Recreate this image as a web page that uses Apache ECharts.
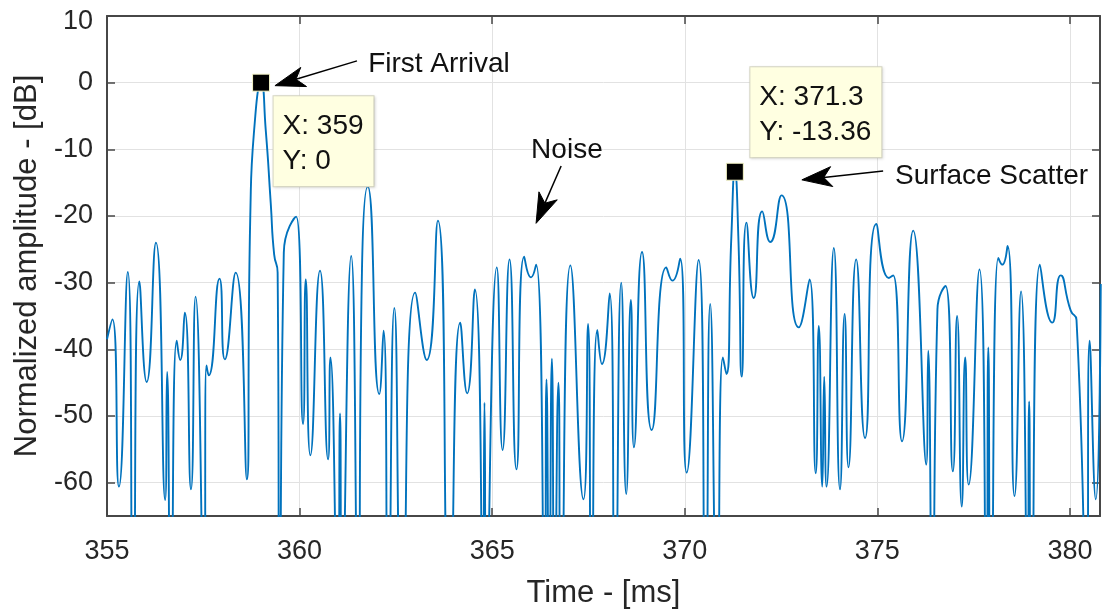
<!DOCTYPE html>
<html>
<head>
<meta charset="utf-8">
<title>Normalized amplitude vs time</title>
<script src="https://cdn.jsdelivr.net/npm/echarts@6/dist/echarts.min.js"></script>
<style>
  html, body { margin: 0; padding: 0; background: #ffffff; }
  #chart { width: 1102px; height: 614px; }
</style>
</head>
<body>
<div id="chart"></div>
<script>
// Envelope of the received signal, in dB relative to the first arrival.
// Nulls that fall below the bottom of the axes are given as -80 dB.
const timeMs = [
  355.00, 355.14, 355.31, 355.54, 355.68, 355.84, 356.03, 356.27, 356.51, 356.56,
  356.66, 356.81, 356.90, 357.02, 357.18, 357.30, 357.52, 357.58, 357.64, 357.92,
  358.06, 358.34, 358.63, 358.72, 358.85, 359.00, 359.12, 359.25, 359.34, 359.43,
  359.48, 359.59, 359.91, 360.09, 360.16, 360.28, 360.53, 360.74, 360.80, 360.99,
  361.05, 361.10, 361.34, 361.52, 361.62, 361.77, 362.07, 362.18, 362.30, 362.46,
  362.66, 363.00, 363.30, 363.59, 363.89, 364.17, 364.35, 364.55, 364.76, 364.80,
  364.85, 365.12, 365.27, 365.45, 365.63, 365.83, 366.01, 366.14, 366.36, 366.41,
  366.48, 366.55, 366.62, 366.72, 366.79, 367.03, 367.37, 367.49, 367.58, 367.73,
  367.85, 368.05, 368.19, 368.35, 368.48, 368.60, 368.68, 368.89, 369.14, 369.52,
  369.68, 369.88, 370.05, 370.36, 370.54, 370.66, 370.84, 370.99, 371.08, 371.21,
  371.30, 371.39, 371.48, 371.60, 371.79, 372.01, 372.22, 372.51, 372.96, 373.24,
  373.40, 373.48, 373.57, 373.62, 373.68, 373.87, 374.03, 374.15, 374.25, 374.45,
  374.68, 374.97, 375.30, 375.41, 375.64, 375.93, 376.27, 376.32, 376.43, 376.56,
  376.77, 376.96, 377.07, 377.19, 377.28, 377.37, 377.65, 377.83, 377.88, 377.95,
  378.14, 378.24, 378.38, 378.56, 378.73, 378.90, 378.94, 379.00, 379.22, 379.54,
  379.76, 380.02, 380.17, 380.43, 380.51, 380.67, 380.80
];
const amplitudeDb = [
  -38.5, -35.5, -60.6, -28.4, -80, -29.8, -44.9, -24.0, -62.6, -43.4,
  -80, -38.7, -41.6, -34.5, -61.0, -32.1, -80, -42.4, -43.9, -29.4,
  -41.5, -28.5, -59.5, -20.0, -5.0, 0, -7.0, -18.0, -25.8, -28.5,
  -80, -25.5, -20.1, -51.2, -29.5, -55.9, -28.2, -56.5, -41.2, -80,
  -49.6, -80, -26.0, -80, -28.0, -15.6, -46.7, -37.2, -80, -33.8,
  -80, -31.5, -41.6, -20.7, -80, -36.0, -46.6, -31.0, -80, -48.0,
  -80, -27.7, -55.1, -26.5, -58.0, -26.1, -29.2, -27.3, -80, -44.5,
  -80, -41.4, -80, -45.0, -80, -27.4, -62.5, -36.2, -80, -37.1,
  -42.2, -31.6, -80, -30.0, -61.7, -32.6, -54.7, -25.4, -52.1, -27.7,
  -29.7, -26.4, -58.5, -26.6, -80, -33.2, -80, -41.2, -43.7, -23.0,
  -13.36, -23.0, -44.1, -21.0, -32.3, -19.3, -23.9, -16.9, -36.7, -29.5,
  -58.6, -36.5, -60.6, -44.1, -60.6, -24.8, -61.0, -34.7, -57.7, -26.5,
  -53.3, -21.2, -29.3, -28.9, -53.8, -22.2, -57.3, -40.2, -80, -34.0,
  -30.5, -58.3, -35.0, -63.6, -41.2, -60.3, -28.0, -80, -39.7, -80,
  -26.3, -27.3, -24.5, -62.0, -31.3, -80, -47.8, -80, -27.3, -36.0,
  -28.9, -34.2, -35.6, -80, -38.7, -62.5, -30.2
];

// Data tips on the two picked peaks
const tipTimeMs = [359, 371.3];
const tipAmplitudeDb = [0, -13.36];

// Tick values
const timeTicks = [355, 360, 365, 370, 375, 380];
const ampTicks = [-60, -50, -40, -30, -20, -10, 0, 10];

// Annotation texts
const noteTexts = ['First Arrival', 'Noise', 'Surface Scatter'];

// ---- layout and styling ----
const FONT = '"Liberation Sans", Arial, Helvetica, sans-serif';
const AXIS_COLOR = '#474747';
const TEXT_COLOR = '#262626';

// Annotation placement in data coordinates
const noteLayout = [
  { at: [361.78, 2.83], align: 'left', tail: [361.49, 3.27], tip: [359.36, -0.45] },
  { at: [366.94, -10.1], align: 'center', tail: [366.79, -12.5], tip: [366.14, -21.1] },
  { at: [375.46, -14.0], align: 'left', tail: [375.15, -13.24], tip: [373.04, -14.58] }
];
// Offset of each data-tip box from its marker
const tipBoxOffset = [[21.5, 22.5], [24.5, -95.5]];

const X_MIN = 355, X_MAX = 380.78, Y_MIN = -65, Y_MAX = 10;

const chart = echarts.init(document.getElementById('chart'), null, { renderer: 'canvas' });

const axisLineStyle = { color: AXIS_COLOR, width: 2 };
const tickStyle = { color: AXIS_COLOR, width: 1.5 };
const gridLineStyle = { color: '#e2e2e2', width: 1 };

const option = {
  animation: false,
  backgroundColor: '#ffffff',
  textStyle: { fontFamily: FONT },
  grid: { left: 107, right: 2, top: 16, bottom: 94, containLabel: false },
  xAxis: [
    {
      type: 'value', min: X_MIN, max: X_MAX, position: 'bottom',
      name: 'Time - [ms]', nameLocation: 'middle', nameGap: 62,
      nameTextStyle: { fontSize: 31, color: TEXT_COLOR, fontFamily: FONT },
      axisLine: { show: true, onZero: false, lineStyle: axisLineStyle },
      axisTick: { show: true, inside: true, length: 8, lineStyle: tickStyle, customValues: timeTicks },
      axisLabel: { show: true, customValues: timeTicks, margin: 22, fontSize: 27, color: TEXT_COLOR, fontFamily: FONT,
                   formatter: v => String(v) },
      splitLine: { show: true, lineStyle: gridLineStyle }
    },
    {
      type: 'value', min: X_MIN, max: X_MAX, position: 'top',
      axisLine: { show: true, onZero: false, lineStyle: axisLineStyle },
      axisTick: { show: true, inside: true, length: 8, lineStyle: tickStyle, customValues: timeTicks },
      axisLabel: { show: false },
      splitLine: { show: false }
    }
  ],
  yAxis: [
    {
      type: 'value', min: Y_MIN, max: Y_MAX, position: 'left',
      name: 'Normalized amplitude - [dB]', nameLocation: 'middle', nameGap: 62,
      nameTextStyle: { fontSize: 31, color: TEXT_COLOR, fontFamily: FONT },
      axisLine: { show: true, onZero: false, lineStyle: axisLineStyle },
      axisTick: { show: true, inside: true, length: 8, lineStyle: tickStyle, customValues: ampTicks },
      axisLabel: {
        show: true, customValues: ampTicks, margin: 14, fontSize: 27, color: TEXT_COLOR, fontFamily: FONT,
        // the label at the top edge sits a little lower so it stays inside the figure
        formatter: v => (v === Y_MAX ? '{edge|' + v + '}' : String(v)),
        rich: { edge: { fontSize: 27, color: TEXT_COLOR, fontFamily: FONT, padding: [12, 0, 0, 0] } }
      },
      splitLine: { show: true, lineStyle: gridLineStyle }
    },
    {
      type: 'value', min: Y_MIN, max: Y_MAX, position: 'right',
      axisLine: { show: true, onZero: false, lineStyle: axisLineStyle },
      axisTick: { show: true, inside: true, length: 8, lineStyle: tickStyle, customValues: ampTicks },
      axisLabel: { show: false },
      splitLine: { show: false }
    }
  ],
  series: [
    {
      type: 'line',
      name: 'amplitude',
      xAxisIndex: 0, yAxisIndex: 0,
      data: timeMs.map((t, i) => [t, amplitudeDb[i]]),
      showSymbol: false,
      symbol: 'none',
      smooth: 0.6,
      clip: true,
      silent: true,
      lineStyle: { color: '#0072BD', width: 1.9 },
      z: 3
    },
    {
      type: 'scatter',
      name: 'data tips',
      xAxisIndex: 0, yAxisIndex: 0,
      data: tipTimeMs.map((t, i) => ({
        value: [t, tipAmplitudeDb[i]],
        label: { position: tipBoxOffset[i] }
      })),
      symbol: 'rect',
      symbolSize: 17,
      clip: false,
      silent: true,
      emphasis: { disabled: true },
      itemStyle: { color: '#000000', opacity: 1, borderColor: '#f6f6c8', borderWidth: 1 },
      label: {
        show: true,
        opacity: 1,
        formatter: p => 'X: ' + p.value[0] + '\nY: ' + p.value[1],
        align: 'left',
        verticalAlign: 'top',
        fontFamily: FONT,
        fontSize: 28,
        lineHeight: 35,
        color: '#111111',
        backgroundColor: '#ffffe1',
        borderColor: '#d6d6c4',
        borderWidth: 1,
        padding: [13, 10, 7, 9],
        shadowColor: 'rgba(0,0,0,0.12)',
        shadowBlur: 3,
        shadowOffsetX: 1,
        shadowOffsetY: 1
      },
      z: 10
    }
  ]
};

chart.setOption(option);

// Annotation arrows and texts, placed through the axes' own scales
function toPx(pt) {
  return chart.convertToPixel({ xAxisIndex: 0, yAxisIndex: 0 }, pt);
}
const HEAD_LEN = 30, HEAD_HALF = 10, HEAD_BACK = 22;
const graphics = [];
noteTexts.forEach((txt, i) => {
  const L = noteLayout[i];
  const p = toPx(L.at);
  const s = toPx(L.tail);
  const t = toPx(L.tip);
  const dx = t[0] - s[0], dy = t[1] - s[1];
  const len = Math.hypot(dx, dy);
  const ux = dx / len, uy = dy / len;
  const nx = -uy, ny = ux;
  const back = [t[0] - HEAD_BACK * ux, t[1] - HEAD_BACK * uy];
  graphics.push({
    type: 'line', z: 20, silent: true,
    shape: { x1: s[0], y1: s[1], x2: back[0], y2: back[1] },
    style: { stroke: '#000000', lineWidth: 1.5 }
  });
  graphics.push({
    type: 'polygon', z: 20, silent: true,
    shape: { points: [
      t,
      [t[0] - HEAD_LEN * ux + HEAD_HALF * nx, t[1] - HEAD_LEN * uy + HEAD_HALF * ny],
      back,
      [t[0] - HEAD_LEN * ux - HEAD_HALF * nx, t[1] - HEAD_LEN * uy - HEAD_HALF * ny]
    ] },
    style: { fill: '#000000', stroke: '#000000', lineWidth: 1 }
  });
  graphics.push({
    type: 'text', z: 20, silent: true,
    x: p[0], y: p[1],
    style: {
      text: txt, fill: '#111111', font: '28px ' + FONT,
      align: L.align, verticalAlign: 'middle'
    }
  });
});
chart.setOption({ graphic: graphics });
</script>
</body>
</html>
